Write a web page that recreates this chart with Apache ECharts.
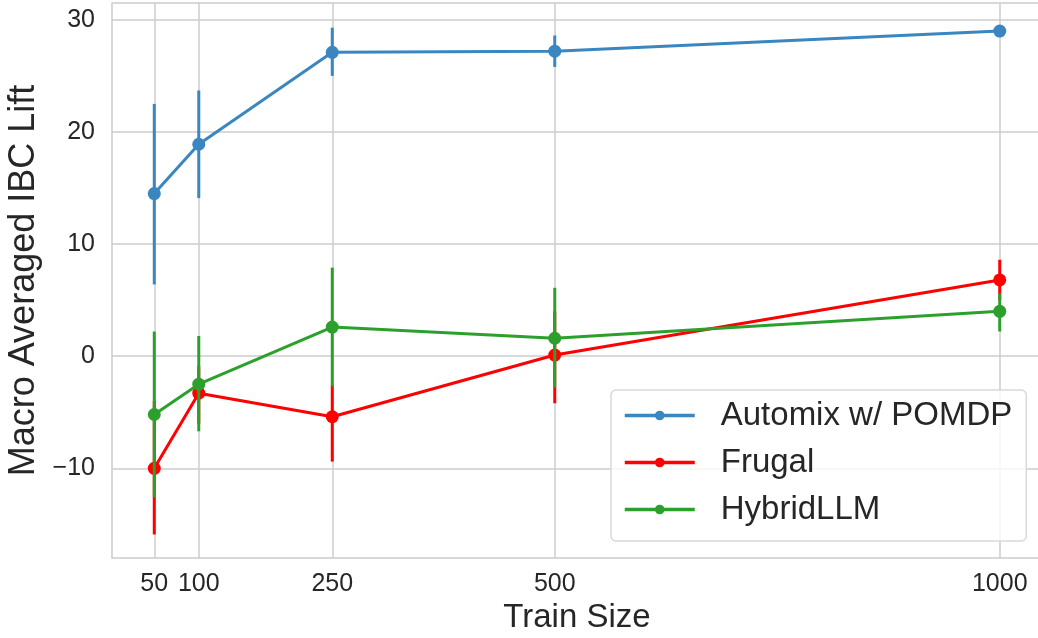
<!DOCTYPE html>
<html>
<head>
<meta charset="utf-8">
<script src="https://cdn.jsdelivr.net/npm/echarts@6/dist/echarts.min.js"></script>
<style>
html, body { margin: 0; padding: 0; background: #fff; }
#trainSizeChart { width: 1038px; height: 638px; }
</style>
</head>
<body>
<div id="trainSizeChart"></div>
<script>
// train sizes on the x axis
var trainSizes = [50, 100, 250, 500, 1000]
var yTicks = [-10, 0, 10, 20, 30]

var seriesNames = ['Automix w/ POMDP', 'Frugal', 'HybridLLM']
var seriesColors = ['#3a86c0', '#ff0000', '#2ca02c']

// mean lift
var automixMean = [14.5, 18.9, 27.1, 27.2, 29.0]
var frugalMean = [-10.0, -3.3, -5.4, 0.1, 6.8]
var hybridMean = [-5.2, -2.5, 2.6, 1.6, 4.0]

// error bar low / high
var automixLow = [6.4, 14.1, 25.0, 25.8, 28.8]
var automixHigh = [22.5, 23.7, 29.3, 28.6, 29.2]
var frugalLow = [-15.9, -6.0, -9.4, -4.2, 5.0]
var frugalHigh = [-4.0, -0.9, -2.6, 4.0, 8.6]
var hybridLow = [-12.6, -6.7, -2.7, -2.8, 2.2]
var hybridHigh = [2.2, 1.8, 7.9, 6.1, 5.6]

var means = [automixMean, frugalMean, hybridMean]
var lows = [automixLow, frugalLow, hybridLow]
var highs = [automixHigh, frugalHigh, hybridHigh]

var chart = echarts.init(document.getElementById('trainSizeChart'))
var font = '"Liberation Sans", Arial, sans-serif'
var textColor = '#262626'
var gridColor = '#cccccc'

var series = []

// grid lines from the tick arrays, kept under the data
series.push({
    type: 'line',
    data: [],
    silent: true,
    z: 0,
    markLine: {
        silent: true,
        z: 0,
        symbol: 'none',
        animation: false,
        label: { show: false },
        emphasis: { disabled: true },
        lineStyle: { color: gridColor, width: 1.5, type: 'solid' },
        data: trainSizes.map(function(v) { return { xAxis: v } })
            .concat(yTicks.map(function(v) { return { yAxis: v } }))
    }
})

seriesNames.forEach(function(name, i) {
    series.push({
        name: name + ' err',
        type: 'custom',
        z: 2 + i * 2,
        silent: true,
        data: trainSizes.map(function(x, j) { return [x, lows[i][j], highs[i][j]] }),
        renderItem: function(params, api) {
            var a = api.coord([api.value(0), api.value(1)])
            var b = api.coord([api.value(0), api.value(2)])
            return {
                type: 'line',
                shape: { x1: a[0], y1: a[1], x2: b[0], y2: b[1] },
                style: { stroke: seriesColors[i], lineWidth: 3 }
            }
        }
    })
    series.push({
        name: name,
        type: 'line',
        z: 3 + i * 2,
        data: trainSizes.map(function(x, j) { return [x, means[i][j]] }),
        symbol: 'circle',
        symbolSize: 13,
        showAllSymbol: true,
        itemStyle: { color: seriesColors[i] },
        lineStyle: { color: seriesColors[i], width: 3 }
    })
})

var option = {
    animation: false,
    backgroundColor: '#ffffff',
    grid: {
        left: 112,
        right: -4,
        top: 3,
        bottom: 80,
        outerBoundsMode: 'none',
        containLabel: false,
        show: true,
        borderColor: gridColor,
        borderWidth: 1.5
    },
    legend: {
        data: seriesNames,
        orient: 'vertical',
        left: 611,
        top: 390,
        padding: [9, 14, 15, 12],
        itemGap: 14,
        itemWidth: 70,
        itemHeight: 12,
        lineStyle: { width: 3.5 },
        backgroundColor: 'rgba(255,255,255,0.8)',
        borderColor: '#d9d9d9',
        borderWidth: 1.5,
        borderRadius: 5,
        textStyle: {
            fontFamily: font,
            fontSize: 33,
            color: textColor,
            padding: [0, 0, 0, 21]
        }
    },
    xAxis: {
        type: 'value',
        min: 2.5,
        max: 1047.5,
        name: 'Train Size',
        nameLocation: 'middle',
        nameGap: 41,
        nameTextStyle: {
            fontFamily: font,
            fontSize: 33,
            color: textColor
        },
        axisLine: { show: false },
        axisTick: { show: false, customValues: trainSizes },
        splitLine: { show: false },
        axisLabel: {
            customValues: trainSizes,
            margin: 14,
            fontFamily: font,
            fontSize: 25,
            color: textColor,
            formatter: function(v) { return String(v) }
        }
    },
    yAxis: {
        type: 'value',
        min: -18,
        max: 31.5,
        name: 'Macro Averaged IBC Lift',
        nameLocation: 'middle',
        nameGap: 69,
        nameRotate: 90,
        nameTextStyle: {
            fontFamily: font,
            fontSize: 36,
            color: textColor
        },
        axisLine: { show: false },
        axisTick: { show: false, customValues: yTicks },
        splitLine: { show: false },
        axisLabel: {
            customValues: yTicks,
            margin: 17,
            fontFamily: font,
            fontSize: 25,
            color: textColor,
            formatter: function(v) { return String(v).replace('-', '\u2212') }
        }
    },
    series: series
}

chart.setOption(option)
</script>
</body>
</html>
